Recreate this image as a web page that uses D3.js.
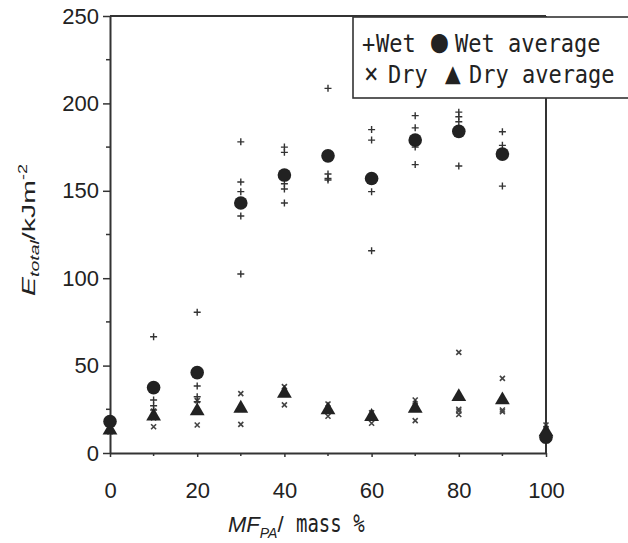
<!DOCTYPE html>
<html lang="en">
<head>
<meta charset="utf-8">
<title>E total vs MF PA</title>
<script src="https://d3js.org/d3.v7.min.js"></script>
<style>
  body { margin: 0; background: #fff; }
  svg { display: block; }
</style>
</head>
<body>
<div id="chart"></div>
<script>
// mass fraction of PA (x categories)
var mfValues = [0, 10, 20, 30, 40, 50, 60, 70, 80, 90, 100];

// individual wet measurements, one list per category
var wetValues = [
  [19, 16],
  [66.5, 30.3, 27, 24.6],
  [80.5, 38.3, 32.2, 29.3],
  [178, 155, 149.5, 135.6, 102.4],
  [175, 172, 154, 151, 143],
  [208.6, 159.6, 156.2, 157],
  [185, 179, 149.5, 115.7],
  [193, 186, 175, 165],
  [195, 192.4, 189.5, 164.2],
  [183.8, 176, 152.7],
  [10, 8, 6]
];
var wetAverage = [18, 37.4, 46, 143, 159, 170, 157, 179, 184, 171, 9];

// individual dry measurements
var dryValues = [
  [14, 12, 13],
  [24, 20, 15],
  [30, 24, 16],
  [34, 25, 16.4],
  [38, 35, 27.5],
  [28, 24, 21],
  [23, 21, 17],
  [30.3, 27, 18.5],
  [57.6, 25, 24, 22],
  [42.7, 30, 24.6, 23.6],
  [16, 14, 12]
];
var dryAverage = [13, 21, 24, 25.5, 34, 24.6, 20.8, 25.5, 32.2, 30.3, 12];

var xTicks = [0, 20, 40, 60, 80, 100];
var xMinor = [10, 30, 50, 70, 90];
var yTicks = [0, 50, 100, 150, 200, 250];
var yMinor = [25, 75, 125, 175, 225];

var width = 628, height = 543;
var pLeft = 110, pRight = 546, pTop = 16, pBottom = 453;
var ink = "#222";

var svg = d3.select("#chart").append("svg")
  .attr("width", width)
  .attr("height", height);

var x = d3.scaleLinear().domain([0, 100]).range([pLeft, pRight]);
var y = d3.scaleLinear().domain([0, 250]).range([pBottom, pTop]);

// frame lines top and right
svg.append("line")
  .attr("x1", pLeft).attr("x2", pRight)
  .attr("y1", pTop).attr("y2", pTop)
  .attr("stroke", "#333").attr("stroke-width", 2);
svg.append("line")
  .attr("x1", pRight).attr("x2", pRight)
  .attr("y1", pTop).attr("y2", pBottom)
  .attr("stroke", "#333").attr("stroke-width", 2);

// axes
var xAxis = svg.append("g")
  .attr("transform", "translate(0," + pBottom + ")")
  .call(d3.axisBottom(x).tickValues(xTicks).tickSize(4).tickSizeOuter(0).tickPadding(25));
xAxis.append("g").attr("class", "minor").selectAll("line").data(xMinor).enter().append("line")
  .attr("x1", function(d) { return x(d); }).attr("x2", function(d) { return x(d); })
  .attr("y1", 0).attr("y2", 3);

var yAxis = svg.append("g")
  .attr("transform", "translate(" + pLeft + ",0)")
  .call(d3.axisLeft(y).tickValues(yTicks).tickSize(7).tickSizeOuter(0).tickPadding(4));
yAxis.append("g").attr("class", "minor").selectAll("line").data(yMinor).enter().append("line")
  .attr("y1", function(d) { return y(d); }).attr("y2", function(d) { return y(d); })
  .attr("x1", 0).attr("x2", -4);

svg.selectAll(".domain").attr("stroke", "#333").attr("stroke-width", 2);
svg.selectAll(".tick line, .minor line").attr("stroke", "#333").attr("stroke-width", 1.5);
svg.selectAll(".tick text")
  .attr("fill", ink)
  .style("font-family", "'Liberation Sans', Arial, sans-serif")
  .style("font-size", "22px");

// flatten individual points
function flatten(values) {
  var out = [];
  values.forEach(function(list, i) {
    list.forEach(function(v) { out.push({ x: mfValues[i], y: v }); });
  });
  return out;
}

var dryPts = flatten(dryValues);
var wetPts = flatten(wetValues);

// dry: small x marks
svg.append("g").selectAll("path").data(dryPts).enter().append("path")
  .attr("transform", function(d) { return "translate(" + x(d.x) + "," + y(d.y) + ")"; })
  .attr("d", "M-2.5,-2.5L2.5,2.5M-2.5,2.5L2.5,-2.5")
  .attr("stroke", "#444").attr("stroke-width", 1.6).attr("fill", "none");

// wet: small plus marks
svg.append("g").selectAll("path").data(wetPts).enter().append("path")
  .attr("transform", function(d) { return "translate(" + x(d.x) + "," + y(d.y) + ")"; })
  .attr("d", "M-3.5,0H3.5M0,-3.5V3.5")
  .attr("stroke", "#333").attr("stroke-width", 1.4).attr("fill", "none");

// dry averages: triangles
svg.append("g").selectAll("path").data(dryAverage).enter().append("path")
  .attr("transform", function(d, i) { return "translate(" + x(mfValues[i]) + "," + y(d) + ")"; })
  .attr("d", d3.symbol().type(d3.symbolTriangle).size(95))
  .attr("fill", ink);

// wet averages: filled circles
svg.append("g").selectAll("circle").data(wetAverage).enter().append("circle")
  .attr("cx", function(d, i) { return x(mfValues[i]); })
  .attr("cy", function(d) { return y(d); })
  .attr("r", 6.8)
  .attr("fill", ink);

// legend box
var legend = svg.append("g");
legend.append("rect")
  .attr("x", 353).attr("y", 17).attr("width", 300).attr("height", 81)
  .attr("fill", "#fff").attr("stroke", "#333").attr("stroke-width", 1.6);
var legFont = "'DejaVu Sans Mono', 'Liberation Mono', monospace";
var legRows = [
  { y: 52, items: [["+", 362, 22], ["Wet", 376, 22], ["\u25CF", 431, 28], ["Wet average", 455, 22]] },
  { y: 83, items: [["\u00D7", 364, 24], ["Dry", 388, 22], ["\u25B2", 445, 26], ["Dry average", 469, 22]] }
];
legRows.forEach(function(row) {
  row.items.forEach(function(it) {
    legend.append("text")
      .attr("transform", "translate(" + it[1] + "," + row.y + ") scale(1,1.15)")
      .attr("fill", ink)
      .style("font-family", legFont)
      .style("font-size", it[2] + "px")
      .text(it[0]);
  });
});

// y axis title
var yt = svg.append("text")
  .attr("transform", "translate(35,230) rotate(-90) scale(1.5,1)")
  .attr("text-anchor", "middle")
  .attr("fill", ink)
  .style("font-family", "'Liberation Sans', Arial, sans-serif")
  .style("font-size", "19px");
yt.append("tspan").style("font-style", "italic").text("E");
yt.append("tspan").style("font-style", "italic").style("font-size", "13px").attr("dy", 4).text("total");
yt.append("tspan").attr("dy", -4).text("/kJm");
yt.append("tspan").style("font-size", "12px").attr("dy", -8).text("-2");

// x axis title
var xt = svg.append("text")
  .attr("x", 228).attr("y", 532)
  .attr("fill", ink)
  .style("font-family", "'Liberation Sans', Arial, sans-serif")
  .style("font-size", "22px");
xt.append("tspan").style("font-style", "italic").text("MF");
xt.append("tspan").style("font-style", "italic").style("font-size", "14px").attr("dy", 6).text("PA");
xt.append("tspan").attr("dy", -6).text("/");
svg.append("text")
  .attr("transform", "translate(296,532) scale(0.95,1.2)")
  .attr("fill", ink)
  .style("font-family", legFont)
  .style("font-size", "20px")
  .text("mass %");
</script>
</body>
</html>
